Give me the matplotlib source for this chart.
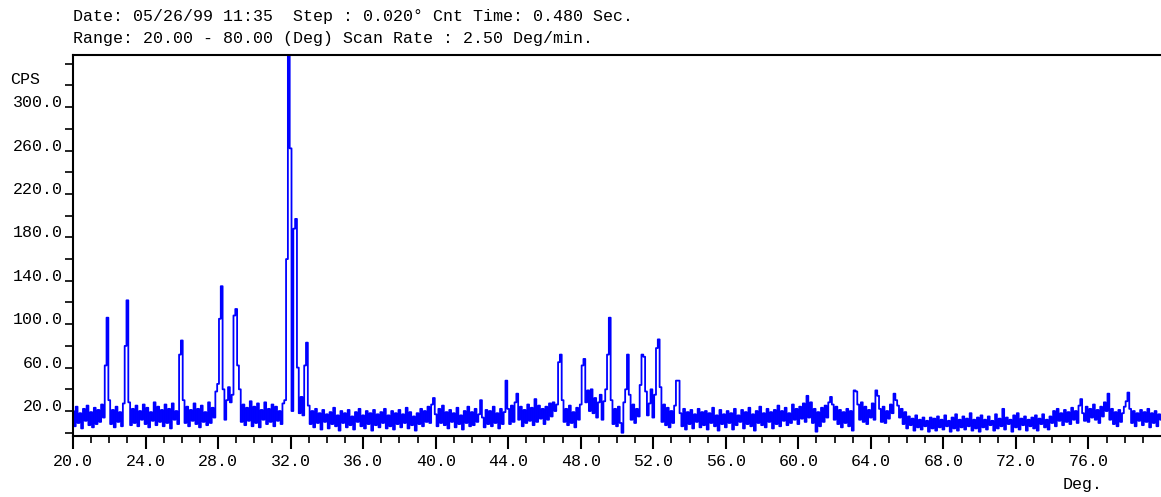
import numpy as np
import matplotlib
matplotlib.use("Agg")
import matplotlib.pyplot as plt
import matplotlib.transforms as mtransforms

# scan settings
start_deg = 20.0
step_deg = 0.1

# counts per second, one row per degree (0.1 deg steps)
cps_20_32 = [
    20, 6, 24, 9, 18, 4, 22, 11, 25, 7,          # 20
    19, 5, 23, 8, 21, 10, 26, 14, 62, 106,       # 21
    30, 8, 21, 5, 24, 10, 19, 6, 27, 80,         # 22
    122, 28, 7, 22, 9, 25, 6, 20, 12, 26,        # 23
    8, 23, 5, 19, 11, 28, 7, 24, 10, 21,         # 24
    6, 26, 9, 22, 4, 27, 12, 20, 8, 72,          # 25
    85, 30, 9, 24, 6, 21, 11, 27, 8, 22,         # 26
    5, 25, 10, 19, 7, 28, 9, 23, 14, 38,         # 27
    45, 105, 135, 40, 12, 30, 42, 28, 35, 108,   # 28
    114, 62, 40, 10, 26, 7, 23, 11, 29, 6,       # 29
    24, 9, 27, 5, 21, 12, 28, 8, 22, 10,         # 30
    26, 6, 24, 11, 20, 8, 27, 30, 160, 360,      # 31
]
cps_32_44 = [
    262, 20, 188, 197, 60, 18, 33, 16, 62, 83,   # 32
    25, 8, 20, 5, 22, 9, 18, 3, 21, 10,          # 33
    17, 4, 19, 8, 23, 6, 16, 2, 20, 9,           # 34
    18, 5, 21, 7, 15, 3, 19, 10, 22, 6,          # 35
    16, 4, 20, 8, 18, 2, 21, 7, 17, 5,           # 36
    19, 9, 22, 4, 16, 6, 20, 3, 18, 8,           # 37
    21, 5, 17, 9, 23, 4, 19, 7, 15, 2,           # 38
    18, 8, 22, 6, 20, 10, 24, 9, 26, 32,         # 39
    17, 6, 22, 9, 25, 7, 19, 4, 21, 10,          # 40
    18, 5, 23, 8, 16, 3, 20, 9, 24, 6,           # 41
    19, 7, 22, 10, 17, 30, 14, 5, 21, 8,         # 42
    20, 6, 24, 9, 18, 4, 22, 8, 19, 48,          # 43
]
cps_44_56 = [
    22, 8, 25, 10, 28, 36, 12, 24, 6, 21,        # 44
    9, 26, 11, 23, 7, 31, 10, 25, 13, 22,        # 45
    8, 24, 12, 27, 15, 28, 20, 26, 65, 72,       # 46
    30, 10, 22, 7, 25, 9, 19, 5, 23, 12,         # 47
    26, 62, 68, 28, 39, 20, 40, 18, 32, 14,      # 48
    28, 35, 12, 29, 40, 72, 106, 30, 8, 22,      # 49
    6, 24, 9, 0, 28, 40, 72, 35, 12, 26,         # 50
    9, 22, 15, 44, 72, 70, 38, 16, 27, 40,       # 51
    14, 35, 78, 86, 42, 10, 26, 7, 23, 5,        # 52
    20, 9, 25, 48, 48, 18, 6, 22, 3, 19,         # 53
    8, 21, 4, 17, 10, 22, 5, 19, 7, 20,          # 54
    3, 18, 9, 23, 6, 16, 2, 21, 8, 17,           # 55
]
cps_56_68 = [
    5, 20, 9, 18, 3, 22, 7, 16, 10, 21,          # 56
    4, 19, 8, 23, 6, 17, 2, 20, 9, 24,           # 57
    7, 18, 5, 22, 10, 19, 4, 21, 8, 25,          # 58
    6, 20, 11, 23, 7, 18, 9, 26, 12, 22,         # 59
    8, 24, 13, 27, 10, 34, 14, 28, 9, 22,        # 60
    1, 19, 6, 23, 10, 25, 14, 28, 33, 26,        # 61
    12, 24, 8, 21, 5, 19, 9, 22, 6, 20,          # 62
    2, 39, 38, 26, 12, 28, 10, 24, 8, 21,        # 63
    14, 27, 12, 39, 34, 22, 10, 24, 9, 20,       # 64
    13, 26, 18, 36, 30, 25, 14, 22, 8, 19,       # 65
    4, 15, 7, 13, 2, 16, 5, 12, 3, 14,           # 66
    6, 11, 1, 14, 4, 13, 2, 15, 5, 12,           # 67
]
cps_68_80 = [
    3, 16, 6, 11, 1, 14, 4, 17, 2, 12,           # 68
    5, 15, 3, 13, 6, 18, 2, 12, 4, 14,           # 69
    1, 16, 5, 12, 3, 15, 7, 11, 2, 17,           # 70
    4, 13, 6, 22, 3, 14, 8, 12, 1, 16,           # 71
    5, 18, 3, 13, 7, 15, 2, 12, 6, 14,           # 72
    4, 16, 2, 13, 8, 17, 5, 12, 3, 15,           # 73
    9, 20, 6, 22, 11, 18, 7, 21, 10, 19,         # 74
    8, 23, 12, 20, 9, 25, 31, 18, 11, 24,        # 75
    10, 22, 14, 26, 12, 21, 9, 24, 15, 28,       # 76
    20, 36, 12, 22, 8, 19, 6, 21, 10, 18,        # 77
    24, 29, 37, 22, 9, 20, 6, 18, 11, 21,        # 78
    7, 19, 10, 22, 5, 18, 9, 20, 6, 17,          # 79
    12,                                          # 80
]

cps = np.array(cps_20_32 + cps_32_44 + cps_44_56 + cps_56_68 + cps_68_80, dtype=float)
deg = start_deg + step_deg * np.arange(len(cps))

y_major = [20, 60, 100, 140, 180, 220, 260, 300]
x_major = [20, 24, 28, 32, 36, 40, 44, 48, 52, 56, 60, 64, 68, 72, 76]

header_1 = "Date: 05/26/99 11:35  Step : 0.020\u00b0 Cnt Time: 0.480 Sec."
header_2 = "Range: 20.00 - 80.00 (Deg) Scan Rate : 2.50 Deg/min."

mono = "Liberation Mono"

fig = plt.figure(figsize=(11.61, 4.97), dpi=100)
ax = fig.add_axes([73 / 1161, 1 - 436 / 497, 1 - 73 / 1161, (436 - 55) / 497])

ax.plot(deg, cps, color="#0000ff", lw=1.3, drawstyle="steps-mid")

ax.set_xlim(20, 80)
ax.set_ylim(-3, 348)

ax.spines["right"].set_visible(False)
for s in ["left", "bottom", "top"]:
    ax.spines[s].set_linewidth(1.5)

# x axis: labels every 4 deg, minor ticks every degree
ax.set_xticks(x_major)
ax.set_xticks(np.arange(20, 80, 1), minor=True)
ax.set_xticklabels([f"{v:.1f}" for v in x_major], fontfamily=mono, fontsize=12)
ax.tick_params(axis="x", which="major", length=9, width=1.5, pad=4, direction="out")
ax.tick_params(axis="x", which="minor", length=5, width=1.2, direction="out")

# y axis: labels sit on top of their tick
ax.set_yticks(y_major)
ax.set_yticks(np.arange(0, 341, 20), minor=True)
ax.set_yticklabels([])
ax.tick_params(axis="y", which="both", length=6, width=1.2, direction="out")
trans = mtransforms.blended_transform_factory(fig.transFigure, ax.transData)
for v in y_major:
    ax.text(63 / 1161, v, f"{v:.1f}", transform=trans, ha="right", va="baseline",
            fontfamily=mono, fontsize=12, clip_on=False)
fig.text(10 / 1161, 1 - 80 / 497, "CPS", fontfamily=mono, fontsize=12, va="center")

fig.text(1083 / 1161, 1 - 485 / 497, "Deg.", fontfamily=mono, fontsize=12,
         ha="center", va="center")
fig.text(73 / 1161, 1 - 17 / 497, header_1, fontfamily=mono, fontsize=12, va="center")
fig.text(73 / 1161, 1 - 38 / 497, header_2, fontfamily=mono, fontsize=12, va="center")

fig.savefig("out.png", dpi=100, facecolor="white")
